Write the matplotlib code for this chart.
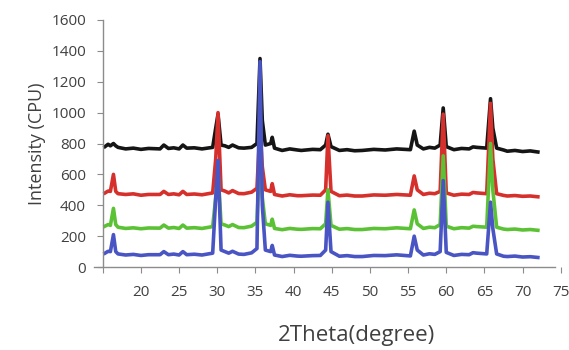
import matplotlib
matplotlib.use("Agg")
import matplotlib.pyplot as plt

# 2theta positions (degree)
two_theta = [15.3, 15.7, 16.0, 16.4, 16.7, 17.0, 18.0, 19.0, 20.0, 21.0, 22.5, 23.0, 23.6, 24.3,
             25.0, 25.5, 26.0, 27.0, 28.0, 29.4, 29.8, 30.1, 30.5, 31.0, 31.5, 32.0, 32.8, 33.5,
             34.5, 35.2, 35.6, 35.9, 36.3, 37.0, 37.2, 37.5, 38.5, 39.5, 40.5, 41.0, 42.5, 43.5,
             44.2, 44.5, 44.9, 46.0, 47.0, 48.0, 49.0, 50.5, 52.0, 53.5, 55.3, 55.8, 56.2, 57.0,
             57.8, 58.5, 59.2, 59.6, 60.0, 61.0, 62.0, 63.0, 63.5, 64.0, 65.3, 65.8, 66.1, 66.6,
             67.5, 68.0, 69.0, 70.0, 71.0, 72.0]

black = [780, 795, 785, 800, 785, 775, 765, 770, 762, 768, 765, 790, 768, 772,
         765, 790, 770, 772, 765, 775, 900, 990, 790, 785, 775, 790, 772, 770,
         775, 800, 1350, 950, 790, 800, 840, 770, 755, 765, 758, 755, 762, 760,
         790, 860, 780, 755, 760, 753, 755, 762, 758, 765, 760, 880, 790, 765,
         775, 770, 790, 1030, 780, 760, 768, 765, 778, 775, 770, 1090, 900, 770,
         758, 750, 755, 748, 752, 745]

red = [480, 492, 490, 600, 490, 475, 470, 474, 465, 470, 470, 490, 470, 474,
       468, 490, 470, 473, 468, 480, 700, 1000, 500, 492, 480, 495, 476, 475,
       485, 510, 900, 650, 500, 490, 540, 470, 460, 468, 462, 462, 466, 465,
       500, 850, 490, 462, 466, 460, 460, 467, 465, 470, 465, 590, 500, 470,
       478, 475, 490, 990, 480, 465, 472, 470, 483, 480, 475, 1060, 700, 475,
       464, 460, 463, 458, 460, 455]

green = [265, 275, 270, 380, 275, 258, 250, 254, 248, 253, 252, 272, 252, 256,
         250, 272, 252, 255, 250, 262, 450, 620, 280, 272, 262, 275, 256, 255,
         265, 290, 750, 450, 280, 270, 310, 250, 242, 250, 245, 244, 249, 248,
         280, 500, 270, 245, 249, 243, 243, 250, 248, 254, 248, 370, 280, 250,
         258, 255, 275, 720, 265, 248, 255, 252, 264, 262, 258, 800, 500, 258,
         246, 243, 246, 240, 243, 238]

blue = [90, 102, 100, 210, 100, 85, 78, 82, 75, 80, 80, 100, 80, 84,
        78, 100, 80, 83, 78, 90, 450, 690, 110, 100, 90, 102, 84, 82,
        92, 120, 1330, 400, 110, 100, 140, 78, 68, 76, 71, 70, 74, 75,
        110, 420, 100, 70, 74, 68, 68, 75, 74, 79, 72, 200, 110, 78,
        86, 82, 100, 560, 95, 75, 82, 80, 93, 90, 85, 420, 250, 85,
        70, 68, 71, 65, 67, 62]

x_ticks = [15, 20, 25, 30, 35, 40, 45, 50, 55, 60, 65, 70, 75]
x_labels = ['', '20', '25', '30', '35', '40', '45', '50', '55', '60', '65', '70', '75']
y_ticks = [0, 200, 400, 600, 800, 1000, 1200, 1400, 1600]

plt.rcParams['font.family'] = ['Open Sans', 'DejaVu Sans']

fig = plt.figure(figsize=(5.69, 3.5), dpi=100)
ax = fig.add_axes([0.1645, 0.237, 0.8237, 0.706])

ax.plot(two_theta, black, color='#151515', lw=2.6)
ax.plot(two_theta, red, color='#d5302c', lw=2.6)
ax.plot(two_theta, green, color='#5cc235', lw=2.6)
ax.plot(two_theta, blue, color='#4a55c4', lw=2.6)

ax.set_xlim(13.8, 75.2)
ax.set_ylim(0, 1600)
ax.set_xticks(x_ticks)
ax.set_xticklabels(x_labels)
ax.set_yticks(y_ticks)

for s in ['top', 'right']:
    ax.spines[s].set_visible(False)
for s in ['left', 'bottom']:
    ax.spines[s].set_color('#8c8c8c')
    ax.spines[s].set_linewidth(1.0)
ax.spines['left'].set_position(('data', 15))
ax.spines['bottom'].set_bounds(13.8, 74.2)

ax.tick_params(axis='x', colors='#8c8c8c', labelcolor='#404040', labelsize=11,
               length=4, pad=9)
ax.tick_params(axis='y', colors='#8c8c8c', labelcolor='#404040', labelsize=11,
               length=4, pad=8)

ax.set_xlabel("2Theta(degree)", fontsize=16, color='#404040')
ax.xaxis.set_label_coords(0.56, -0.235)
ax.set_ylabel("Intensity (CPU)", fontsize=13, color='#404040', labelpad=4)

plt.savefig("out.png", dpi=100)
